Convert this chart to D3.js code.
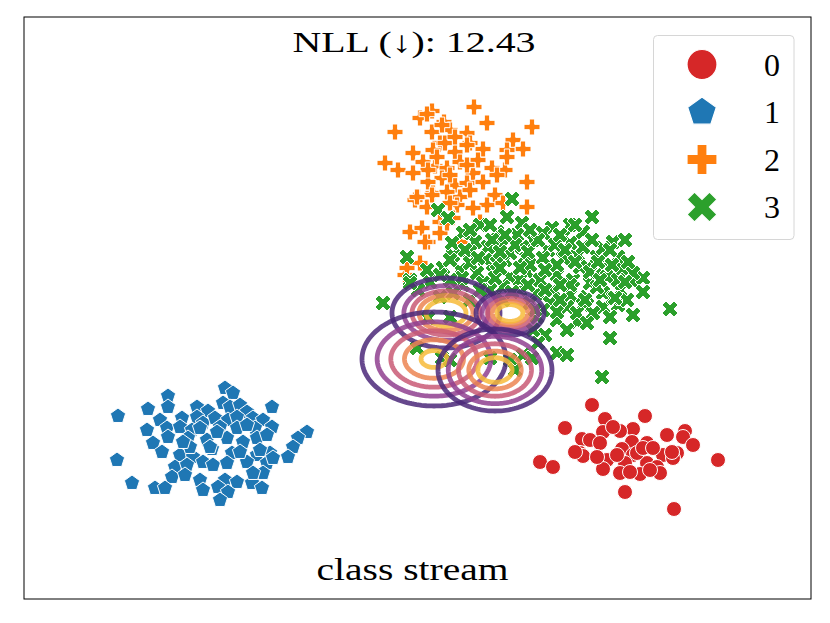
<!DOCTYPE html>
<html><head><meta charset="utf-8">
<script src="https://cdn.jsdelivr.net/npm/d3@7"></script>
<style>body{margin:0;background:#fff}</style>
</head><body>
<svg id="c" width="830" height="623"></svg>
<script>
// ---------------- data ----------------
const classLabels = ["0", "1", "2", "3"];
const classColors = ["#d62728", "#1f77b4", "#ff7f0e", "#2ca02c"];

const class0 = [[17.4,-9.7],[18.7,-11.1],[22.7,-10.8],[14.7,-12.0],[21.5,-12.1],[20.2,-12.3],[18.5,-12.4],[24.9,-12.7],[26.7,-12.3],[26.5,-12.9],[16.4,-13.1],[17.2,-13.2],[18.2,-13.5],[22.9,-13.5],[21.4,-13.4],[27.5,-13.7],[20.4,-14.1],[16.2,-14.5],[16.5,-14.8],[21.5,-14.7],[24.5,-14.7],[25.9,-14.5],[25.5,-15.0],[18.9,-15.2],[20.7,-15.5],[22.9,-15.5],[23.9,-15.9],[12.2,-15.4],[13.5,-15.9],[18.5,-16.1],[20.2,-16.5],[22.2,-16.6],[24.2,-16.5],[30.0,-15.2],[20.7,-18.4],[25.6,-20.1],[21.2,-16.4],[23.2,-16.2],[21.9,-14.5],[22.5,-14.0],[19.9,-14.7],[17.9,-14.9],[15.7,-14.4],[19.5,-11.9],[23.5,-14.0],[25.4,-14.4]];

const class1 = [[-19.3,-8.0],[-18.5,-8.5],[-25.0,-8.8],[-30.0,-10.8],[-27.0,-10.1],[-25.0,-9.9],[-22.1,-9.9],[-21.0,-10.3],[-19.5,-9.5],[-18.8,-9.9],[-17.8,-9.7],[-17.1,-10.4],[-14.6,-9.9],[-25.8,-11.2],[-23.6,-11.0],[-22.1,-10.9],[-21.5,-11.5],[-20.3,-11.0],[-19.0,-11.2],[-18.1,-10.9],[-16.5,-11.0],[-15.5,-11.2],[-27.1,-12.2],[-25.1,-12.0],[-23.8,-11.9],[-22.6,-12.2],[-21.8,-12.0],[-19.8,-11.9],[-18.1,-12.0],[-16.3,-12.0],[-14.6,-11.9],[-11.1,-12.4],[-12.0,-13.0],[-12.5,-13.9],[-13.0,-14.9],[-26.5,-13.5],[-25.0,-12.9],[-23.0,-13.0],[-21.1,-13.2],[-19.1,-13.0],[-17.5,-13.4],[-16.1,-13.0],[-15.1,-12.7],[-25.6,-14.4],[-23.8,-14.7],[-22.5,-14.9],[-20.6,-14.1],[-18.6,-14.5],[-16.1,-14.7],[-14.8,-14.5],[-15.8,-14.2],[-30.1,-15.2],[-24.3,-15.9],[-23.1,-15.7],[-21.5,-15.4],[-20.5,-15.7],[-19.1,-15.5],[-17.1,-15.4],[-15.1,-15.5],[-14.5,-15.0],[-24.6,-16.9],[-23.3,-16.7],[-21.8,-17.2],[-19.3,-17.2],[-18.1,-17.4],[-16.6,-17.5],[-15.5,-16.5],[-16.5,-16.5],[-28.6,-17.5],[-26.3,-18.0],[-25.3,-18.0],[-21.5,-18.2],[-20.0,-17.9],[-19.0,-18.4],[-15.6,-18.0],[-19.8,-19.2],[-20.8,-13.9],[-22.8,-13.9],[-17.8,-14.4],[-20.1,-12.4],[-17.1,-11.7],[-23.5,-13.4]];

const class2 = [[5.6,20.1],[1.4,19.7],[0.2,19.0],[2.6,18.6],[6.9,18.5],[11.4,18.1],[-2.3,17.6],[1.4,17.6],[4.9,17.5],[3.2,17.8],[9.5,16.8],[2.2,16.5],[5.2,16.5],[-0.5,15.5],[1.5,15.8],[6.5,15.9],[10.5,15.9],[8.9,15.8],[3.7,15.6],[4.9,16.3],[-3.3,14.5],[-2.0,13.8],[0.5,14.6],[1.7,14.2],[2.9,14.0],[4.2,14.6],[6.0,14.8],[7.4,14.0],[8.7,13.8],[5.5,13.5],[10.9,12.6],[2.4,13.0],[3.7,12.3],[1.0,12.6],[4.9,12.5],[6.5,12.6],[0.0,11.1],[1.5,11.5],[2.9,11.6],[4.2,11.1],[5.2,11.8],[7.7,11.3],[6.9,10.3],[5.5,10.0],[3.9,10.3],[0.9,10.1],[-0.3,10.8],[2.2,8.6],[3.5,9.0],[-0.8,7.6],[0.4,8.0],[1.0,6.6],[2.2,7.5],[4.2,6.6],[0.2,4.5],[-1.3,3.3],[8.5,10.5],[10.9,10.1],[2.7,16.5],[3.7,17.1],[1.0,13.8],[-0.5,13.5],[1.9,15.1],[3.2,13.3],[4.9,14.3],[3.2,10.5],[7.9,13.3],[8.9,15.1],[2.4,18.3],[0.9,19.4],[0.7,6.6],[-1.1,4.0],[2.9,8.5],[6.2,8.6],[1.4,11.3],[-0.1,11.1]];

const class3 = [[9.4,10.9],[17.4,9.1],[15.2,8.3],[13.4,8.0],[16.5,7.6],[19.5,6.6],[20.7,6.8],[2.0,9.8],[3.0,9.0],[8.9,9.1],[10.4,8.5],[9.9,7.3],[11.5,6.8],[12.5,7.5],[14.5,7.1],[5.7,6.6],[7.0,6.1],[8.5,6.3],[-1.1,5.1],[3.5,5.3],[5.2,5.6],[6.7,4.8],[8.7,4.8],[10.7,5.1],[13.0,5.8],[14.5,5.0],[16.0,5.3],[17.0,4.1],[18.5,4.0],[20.0,5.1],[21.5,2.6],[22.5,3.0],[2.5,4.0],[4.2,3.8],[5.9,3.5],[7.5,3.6],[9.2,3.1],[10.9,3.6],[12.2,2.8],[13.9,3.3],[15.5,2.8],[17.2,2.5],[18.9,3.1],[20.5,3.8],[-0.8,2.8],[1.2,2.6],[-3.5,0.5],[8.5,2.1],[10.2,1.8],[11.9,1.5],[13.5,1.8],[15.2,1.3],[16.9,1.1],[18.5,1.5],[20.2,1.8],[22.5,1.6],[25.2,-0.1],[13.2,0.5],[14.9,0.1],[16.5,0.3],[18.5,0.1],[20.0,0.3],[21.5,-0.7],[13.9,-1.2],[15.9,-1.4],[14.9,-2.2],[19.2,-3.0],[12.7,-2.7],[13.9,-4.5],[14.9,-4.7],[18.4,-6.9],[12.0,-3.5],[11.5,-2.2],[6.2,8.3],[4.5,7.5],[7.9,7.6],[3.4,6.5],[9.2,5.5],[13.9,4.3],[11.2,4.3],[16.2,4.1],[17.9,5.1],[18.5,6.0],[16.5,6.1],[15.2,6.5],[10.4,6.1],[12.5,5.0],[7.9,4.5],[5.2,4.5],[3.2,4.8],[0.9,3.8],[0.0,1.8],[4.5,2.3],[6.5,2.5],[10.2,2.8],[15.2,2.3],[17.9,2.1],[19.5,1.0],[17.5,-0.5],[15.9,-0.5],[13.9,-0.4],[16.9,-1.5],[19.2,-0.9],[20.9,0.8],[21.5,3.5],[20.0,2.8],[11.9,-0.9],[12.5,-0.2],[11.2,0.5],[7.2,1.8],[8.5,0.8],[2.2,1.1],[5.2,0.8],[3.5,1.5],[2.4,-5.0],[-0.1,-4.0],[3.2,-5.2],[7.2,-5.0],[9.2,-5.2],[9.7,-6.2],[10.5,-4.7],[11.4,-5.0],[-0.8,2.5],[1.0,-1.0],[3.2,-0.9],[4.7,5.8],[6.0,5.0],[7.4,6.8],[8.2,5.6],[9.7,6.3],[11.0,5.6],[12.0,6.8],[13.7,6.3],[14.7,5.8],[15.7,4.6],[17.2,3.6],[18.0,4.6],[19.4,4.3],[20.7,2.6],[14.2,2.3],[12.7,1.8],[11.0,2.3],[9.4,1.6],[7.7,3.0],[6.2,1.8],[4.4,3.0],[3.2,2.8],[2.2,3.3],[5.2,7.8],[7.2,8.3],[8.7,7.3],[11.2,7.8],[14.2,7.3],[15.7,8.3],[17.4,6.8],[19.2,5.8],[12.7,3.8],[10.2,4.0],[8.2,4.0],[16.7,0.8],[14.2,0.8],[11.7,-0.2],[18.2,2.8],[19.7,1.0],[21.0,4.6]];

const classData = [class0, class1, class2, class3];

// Gaussian components (drawn in this order): centre, semi-axes of outer ring, ring scale per level
const compCenters = [[2.8,-0.5],[9.2,-0.5],[1.6,-5.1],[7.7,-6.2]];
const compAxes    = [[5.4,3.5],[3.4,2.2],[7.2,4.7],[5.7,4.1]];
const compRings   = [[1,0.78,0.63,0.5,0.37],[1,0.82,0.66,0.52,0.38],[1,0.79,0.6,0.41,0.18],[1,0.82,0.64,0.46,0.3]];
const levelColors = ["#4b2879","#8f3f8f","#c95a76","#ec8552","#f7bb3a"];

const titleText = "NLL (\u2193): 12.43";
const bottomText = "class stream";

// ---------------- layout ----------------
const svg = d3.select("#c");
const L = 24, R = 811, T = 17, B = 599;
const x = d3.scaleLinear().domain([-39.4, 39.3]).range([L, R]);
const y = d3.scaleLinear().domain([29.1, -29.1]).range([T, B]);

// marker types (size = full width, matplotlib style)
const symCircle = {draw(ctx, s){ const r = s/2; ctx.moveTo(r,0); ctx.arc(0,0,r,0,2*Math.PI); ctx.closePath(); }};
const symPentagon = {draw(ctx, s){ const r = s/2; for(let k=0;k<5;k++){ const a=-Math.PI/2+k*2*Math.PI/5; const px=r*Math.cos(a), py=r*Math.sin(a); if(k) ctx.lineTo(px,py); else ctx.moveTo(px,py);} ctx.closePath(); }};
function polySym(pts, div){ return {draw(ctx, s){ pts.forEach((p,i)=>{ const px=p[0]/div*s, py=p[1]/div*s; if(i) ctx.lineTo(px,py); else ctx.moveTo(px,py); }); ctx.closePath(); }}; }
const symPlus = polySym([[-1,-3],[1,-3],[1,-1],[3,-1],[3,1],[1,1],[1,3],[-1,3],[-1,1],[-3,1],[-3,-1],[-1,-1]], 6);
const symX = polySym([[-1,-2],[0,-1],[1,-2],[2,-1],[1,0],[2,1],[1,2],[0,1],[-1,2],[-2,1],[-1,0],[-2,-1]], 4);
const classSymbols = [symCircle, symPentagon, symPlus, symX];
const markerSizes = [15, 16, 16, 16];

const plot = svg.append("g");

// scatter
classData.forEach((pts, ci) => {
  const sym = d3.symbol().type(classSymbols[ci]).size(markerSizes[ci]);
  plot.append("g").selectAll("path").data(pts).join("path")
    .attr("d", sym)
    .attr("transform", d => `translate(${x(d[0])},${y(d[1])})`)
    .attr("fill", classColors[ci])
    .attr("stroke", "#fff")
    .attr("stroke-width", 1);
});

// contour ellipses
const line = d3.line().x(d => x(d[0])).y(d => y(d[1])).curve(d3.curveLinearClosed);
const angles = d3.range(0, 2*Math.PI, Math.PI/90);
compCenters.forEach((c, k) => {
  const g = plot.append("g");
  compRings[k].forEach((r, li) => {
    const pts = angles.map(t => [c[0] + compAxes[k][0]*r*Math.cos(t), c[1] + compAxes[k][1]*r*Math.sin(t)]);
    g.append("path").attr("d", line(pts))
      .attr("fill", "none")
      .attr("stroke", levelColors[li])
      .attr("stroke-width", 4.8)
      .attr("stroke-opacity", 0.85);
  });
});

// frame
svg.append("rect").attr("x", L).attr("y", T).attr("width", R-L).attr("height", B-T)
  .attr("fill", "none").attr("stroke", "#000").attr("stroke-width", 1);

// title and bottom label
const serif = "'Liberation Serif', 'Times New Roman', serif";
svg.append("text").attr("x", 414).attr("y", 52).attr("text-anchor", "middle")
  .attr("font-family", serif).attr("font-size", 30)
  .attr("textLength", 243).attr("lengthAdjust", "spacingAndGlyphs")
  .text(titleText);
svg.append("text").attr("x", 412.5).attr("y", 580).attr("text-anchor", "middle")
  .attr("font-family", serif).attr("font-size", 31)
  .attr("textLength", 192).attr("lengthAdjust", "spacingAndGlyphs")
  .text(bottomText);

// legend
const lg = svg.append("g");
lg.append("rect").attr("x", 653.5).attr("y", 35.5).attr("width", 140.5).attr("height", 204)
  .attr("rx", 4).attr("fill", "#fff").attr("fill-opacity", 0.85)
  .attr("stroke", "#d6d6d6").attr("stroke-width", 1);
classLabels.forEach((lab, i) => {
  const yy = 64.5 + i*47.5;
  lg.append("path").attr("d", d3.symbol().type(classSymbols[i]).size(30)())
    .attr("transform", `translate(702,${yy})`)
    .attr("fill", classColors[i]).attr("stroke", "#fff").attr("stroke-width", 1.2);
  lg.append("text").attr("x", 772).attr("y", yy + 11).attr("text-anchor", "middle")
    .attr("font-family", serif).attr("font-size", 32)
    .text(lab);
});
</script>
</body></html>
